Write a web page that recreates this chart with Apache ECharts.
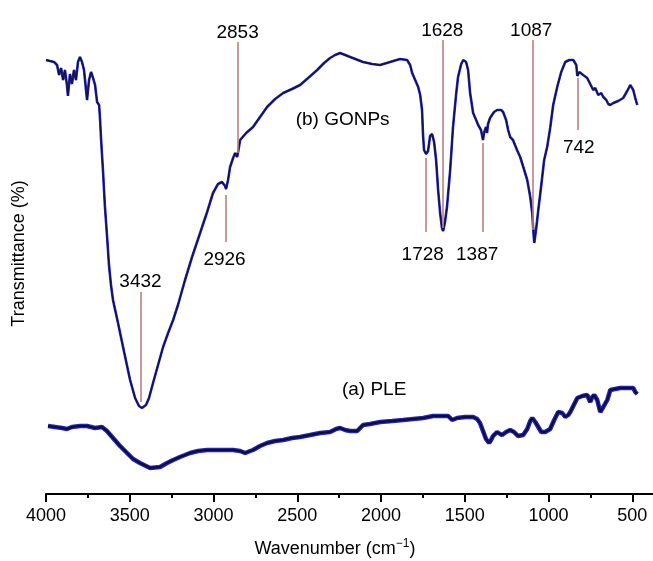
<!DOCTYPE html>
<html>
<head>
<meta charset="utf-8">
<script src="https://cdn.jsdelivr.net/npm/echarts@6/dist/echarts.min.js"></script>
<style>
html,body{margin:0;padding:0;background:#fff;overflow:hidden;width:653px;height:561px;}
#chart{width:716px;height:561px;}
</style>
</head>
<body>
<div id="chart"></div>
<script>
// ---- GONPs spectrum (b) ----
var gonpsWn = [4000,3976,3952,3934,3922,3910,3898,3887,3875,3869,3857,3845,3833,3821,3809,3797,3785,3773,3761,3755,3743,3731,3719,3707,3695,3683,3677,3671,3660,3648,3636,3624,3612,3600,3570,3540,3498,3468,3445,3427,3403,3385,3361,3331,3301,3271,3241,3212,3170,3128,3080,3038,3003,2973,2949,2931,2925,2913,2901,2883,2871,2859,2853,2841,2805,2764,2722,2680,2632,2584,2531,2483,2435,2381,2340,2304,2274,2244,2184,2107,2053,2005,1946,1886,1844,1826,1814,1796,1778,1766,1755,1749,1743,1731,1719,1707,1695,1683,1671,1659,1647,1636,1629,1618,1606,1587,1570,1552,1540,1521,1509,1492,1480,1468,1450,1432,1420,1403,1391,1385,1373,1367,1361,1349,1325,1307,1283,1271,1253,1241,1229,1212,1188,1169,1145,1127,1109,1097,1091,1085,1073,1061,1043,1026,1008,990,972,948,924,900,876,852,834,828,822,816,793,769,751,733,721,703,685,673,655,643,631,613,584,554,530,512,494,482,470];
var gonpsT = [434,433,432,429,419,426,414,424,409,398,420,410,424,414,432,437,432,424,404,394,414,422,416,409,392,389,374,354,324,287,259,229,209,194,171,147,114,96,88,86,89,96,111,129,147,161,174,189,214,237,261,282,301,310,312,308,305,314,327,336,341,337,342,354,361,367,377,387,395,401,405,409,416,424,431,436,439,441,437,432,430,429,432,435,434,429,421,414,407,399,384,359,344,340,343,358,360,352,334,304,281,266,263,272,287,324,367,399,417,430,434,432,424,401,381,374,369,364,354,361,367,361,370,376,382,384,384,382,374,364,357,354,344,337,324,314,297,281,264,251,266,284,309,334,347,366,389,407,422,432,434,434,429,418,416,422,419,416,410,404,406,399,401,397,394,390,389,391,393,396,403,409,404,396,389];

// ---- PLE spectrum (a) ----
var pleWn = [3988,3946,3904,3875,3845,3797,3755,3707,3666,3636,3600,3558,3516,3480,3439,3379,3319,3277,3241,3200,3140,3092,3038,2991,2937,2883,2841,2811,2781,2764,2722,2680,2632,2584,2531,2483,2423,2363,2304,2268,2244,2214,2184,2142,2107,2065,2005,1933,1868,1808,1748,1689,1647,1599,1575,1546,1498,1450,1426,1409,1391,1373,1355,1343,1331,1307,1289,1277,1253,1229,1206,1182,1151,1127,1109,1097,1079,1061,1043,1020,990,966,942,918,900,882,870,846,828,798,769,751,739,727,709,697,691,673,649,631,602,572,530,494,482,470];
var pleT = [68,67,66,65,67,68,68,66,67,63,56,48,41,35,31,26,27,31,34,37,41,43,44,44,44,44,43,41,43,44,48,51,53,54,56,57,59,61,62,65,66,64,63,63,69,70,72,73,74,75,76,78,78,78,74,76,77,77,75,71,63,55,51,54,58,62,60,59,62,64,62,58,59,65,73,76,72,67,62,62,65,74,82,81,77,79,82,90,96,98,99,92,97,99,94,86,82,87,94,104,105,106,106,106,102,100];

// ---- peak annotations ----
var peakLabels = ['3432','2926','2853','1728','1628','1387','1087','742'];
var peakLineWn = [3433,2928,2853,1730,1630,1390,1092,828];
var peakLineFrom = [202,299,452,336,454,351,454,416];
var peakLineTo = [92,252,341,262,266,262,264,364];
var peakLabelWn = [3436,2934,2856,1751,1634,1426,1103,819];
var peakLabelT = [212,234,461,239,463,239,463,346];

// ---- curve names ----
var curveNames = ['(b) GONPs','(a) PLE'];
var curveNameWn = [2229,2041];
var curveNameT = [374,104];

// ---- x axis ticks ----
var xTickMin = 0, xTickMax = 4000, xTickStep = 500;

var FONT = '"Liberation Sans", Arial, Helvetica, sans-serif';

function zip(a, b){ return a.map(function(v,i){ return [v, b[i]]; }); }

var chart = echarts.init(document.getElementById('chart'), null, {renderer:'canvas', width:716, height:561});

var markLines = peakLineWn.map(function(w,i){
  return [{coord:[w, peakLineFrom[i]]},{coord:[w, peakLineTo[i]]}];
});
var peakTextData = peakLabels.map(function(t,i){
  return {name:t, value:[peakLabelWn[i], peakLabelT[i]]};
});
var nameTextData = curveNames.map(function(t,i){
  return {name:t, value:[curveNameWn[i], curveNameT[i]]};
});

var textLabel = {show:true, position:'inside', formatter:function(p){return p.name;},
  color:'#000', opacity:1, fontSize:19, fontFamily:FONT, textBorderWidth:0, textShadowBlur:0};

var option = {
  animation:false,
  backgroundColor:'#ffffff',
  grid:{left:46, top:13, bottom:67, right:0},
  xAxis:{
    type:'value', min:xTickMin, max:xTickMax, interval:xTickStep, inverse:true,
    axisLine:{show:true, onZero:false, lineStyle:{color:'#000', width:2}},
    axisTick:{show:true, length:8, lineStyle:{color:'#000', width:2}},
    minorTick:{show:true, splitNumber:2, length:4, lineStyle:{color:'#000', width:2}},
    axisLabel:{show:true, margin:13, color:'#000', fontSize:18, fontFamily:FONT, showMinLabel:false,
      formatter:function(v){ return String(v); }},
    splitLine:{show:false}, minorSplitLine:{show:false}
  },
  yAxis:{
    type:'value', min:0, max:481,
    axisLine:{show:true, lineStyle:{color:'#000', width:2}},
    axisTick:{show:false}, axisLabel:{show:false}, splitLine:{show:false},
    name:'Transmittance (%)', nameLocation:'middle', nameRotate:90, nameGap:18,
    nameTextStyle:{color:'#000', fontSize:18, fontFamily:FONT}
  },
  graphic:[{
    type:'text', x:335, y:549, silent:true,
    style:{
      text:'Wavenumber (cm{sup|−1})', align:'center', verticalAlign:'middle',
      fill:'#000', fontSize:18, fontFamily:FONT,
      rich:{sup:{fontSize:12, fontFamily:FONT, fill:'#000', verticalAlign:'top', padding:[0,0,10,0]}}
    }
  }],
  series:[
    {type:'line', data:zip(gonpsWn,gonpsT), showSymbol:false, symbol:'none', silent:true,
     lineStyle:{color:'#2a2ac0', width:2.6}, z:2},
    {type:'line', data:zip(gonpsWn,gonpsT), showSymbol:false, symbol:'none', silent:true,
     lineStyle:{color:'#12124a', width:1.4}, z:3},
    {type:'line', data:zip(pleWn,pleT), showSymbol:false, symbol:'none', silent:true,
     lineStyle:{color:'#2222b8', width:4.5}, z:2},
    {type:'line', data:zip(pleWn,pleT), showSymbol:false, symbol:'none', silent:true,
     lineStyle:{color:'#0d0d3a', width:2}, z:3},
    {type:'line', data:[], silent:true, z:4,
     markLine:{silent:true, symbol:['none','none'], animation:false,
       label:{show:false},
       lineStyle:{color:'#b98080', width:1.6, type:'solid'},
       data:markLines}},
    {type:'scatter', data:peakTextData, symbolSize:0, silent:true, z:5,
     itemStyle:{opacity:1}, label:textLabel},
    {type:'scatter', data:nameTextData, symbolSize:0, silent:true, z:5,
     itemStyle:{opacity:1}, label:textLabel}
  ]
};
chart.setOption(option);
</script>
</body>
</html>
